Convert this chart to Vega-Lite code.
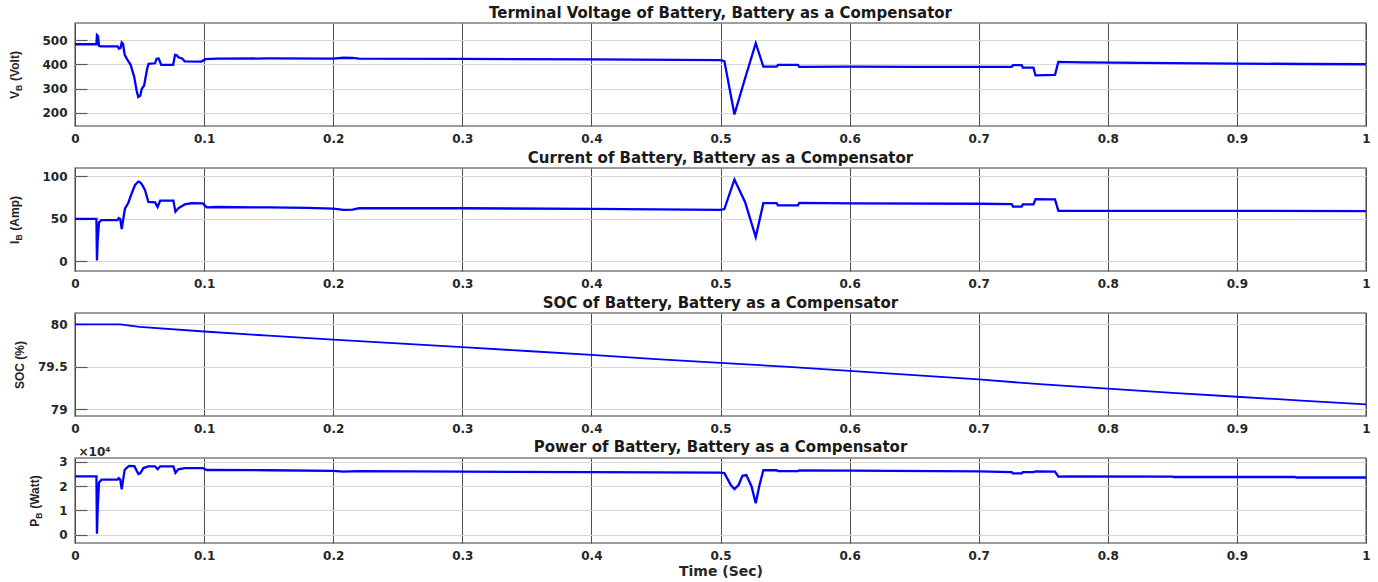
{
  "$schema": "https://vega.github.io/schema/vega-lite/v6.json",
  "padding": {"left": 7, "top": 5, "right": 6, "bottom": 4},
  "background": "white",
  "spacing": 42,
  "bounds": "flush",
  "config": {
    "font": "DejaVu Sans",
    "view": {"stroke": "#7f7f7f", "strokeWidth": 1.5},
    "title": {"font": "DejaVu Sans", "fontSize": 15, "fontWeight": "bold", "color": "#1a1a1a", "offset": 2, "anchor": "middle", "frame": "group"},
    "axis": {"labelFont": "DejaVu Sans", "labelFontSize": 12, "labelFontWeight": "bold", "labelColor": "#262626", "domain": false, "titleColor": "#262626"},
    "axisX": {"grid": true, "gridColor": "#4d4d4d", "gridWidth": 1, "ticks": false, "labelPadding": 7, "labelFlush": false, "titleFont": "DejaVu Sans", "titleFontSize": 14, "titleFontWeight": "bold", "titlePadding": 3},
    "axisY": {"grid": true, "gridColor": "#d6d6d6", "gridWidth": 1.2, "ticks": true, "tickSize": -12, "tickColor": "#595959", "tickWidth": 1.2, "labelPadding": 20, "titleFont": "Liberation Sans", "titleFontSize": 12, "titleFontWeight": "bold", "titleAlign": "center", "titleBaseline": "alphabetic"},
    "line": {"color": "#0000ff", "strokeWidth": 2.3}
  },
  "datasets": {
    "vb": [
      {"t": 0, "v": 484}, {"t": 0.0166, "v": 484}, {"t": 0.017, "v": 522}, {"t": 0.0178, "v": 518},
      {"t": 0.0186, "v": 477}, {"t": 0.02, "v": 475}, {"t": 0.033, "v": 475}, {"t": 0.034, "v": 466},
      {"t": 0.0352, "v": 468}, {"t": 0.0362, "v": 491}, {"t": 0.0372, "v": 485}, {"t": 0.0385, "v": 440},
      {"t": 0.0405, "v": 420}, {"t": 0.043, "v": 400}, {"t": 0.0458, "v": 350}, {"t": 0.0478, "v": 290},
      {"t": 0.049, "v": 265}, {"t": 0.0505, "v": 270}, {"t": 0.0518, "v": 300}, {"t": 0.0535, "v": 312},
      {"t": 0.056, "v": 385}, {"t": 0.057, "v": 403}, {"t": 0.062, "v": 405}, {"t": 0.0632, "v": 424},
      {"t": 0.0648, "v": 425}, {"t": 0.0668, "v": 398}, {"t": 0.076, "v": 398}, {"t": 0.0775, "v": 440},
      {"t": 0.079, "v": 438}, {"t": 0.08, "v": 430}, {"t": 0.083, "v": 425}, {"t": 0.085, "v": 413},
      {"t": 0.098, "v": 412}, {"t": 0.101, "v": 422}, {"t": 0.11, "v": 424}, {"t": 0.15, "v": 425},
      {"t": 0.2, "v": 424}, {"t": 0.208, "v": 428}, {"t": 0.215, "v": 427}, {"t": 0.22, "v": 424},
      {"t": 0.3, "v": 423}, {"t": 0.4, "v": 421}, {"t": 0.5, "v": 418}, {"t": 0.503, "v": 414},
      {"t": 0.5108, "v": 193}, {"t": 0.519, "v": 342}, {"t": 0.5273, "v": 488}, {"t": 0.5332, "v": 391},
      {"t": 0.5435, "v": 391}, {"t": 0.5445, "v": 398}, {"t": 0.56, "v": 398}, {"t": 0.561, "v": 390},
      {"t": 0.6, "v": 391}, {"t": 0.65, "v": 390}, {"t": 0.7, "v": 390}, {"t": 0.7256, "v": 390},
      {"t": 0.7265, "v": 397}, {"t": 0.7333, "v": 397}, {"t": 0.7342, "v": 387}, {"t": 0.7424, "v": 387},
      {"t": 0.744, "v": 355}, {"t": 0.7591, "v": 357}, {"t": 0.7617, "v": 411}, {"t": 0.78, "v": 409},
      {"t": 0.85, "v": 406}, {"t": 0.9, "v": 404}, {"t": 0.95, "v": 402}, {"t": 1, "v": 401}
    ],
    "ib": [
      {"t": 0, "i": 50}, {"t": 0.0166, "i": 50}, {"t": 0.017, "i": 1}, {"t": 0.0176, "i": 25},
      {"t": 0.0186, "i": 46}, {"t": 0.0205, "i": 48.5}, {"t": 0.033, "i": 48.5}, {"t": 0.0338, "i": 51},
      {"t": 0.035, "i": 50}, {"t": 0.0362, "i": 38}, {"t": 0.0372, "i": 48}, {"t": 0.0387, "i": 62},
      {"t": 0.0413, "i": 69}, {"t": 0.0439, "i": 80}, {"t": 0.0465, "i": 90}, {"t": 0.0491, "i": 94},
      {"t": 0.0505, "i": 93}, {"t": 0.0517, "i": 91}, {"t": 0.0542, "i": 84}, {"t": 0.0568, "i": 70},
      {"t": 0.062, "i": 69.5}, {"t": 0.064, "i": 64}, {"t": 0.066, "i": 71.5}, {"t": 0.0762, "i": 71.5},
      {"t": 0.0778, "i": 58.5}, {"t": 0.08, "i": 62.5}, {"t": 0.085, "i": 67}, {"t": 0.09, "i": 68.4},
      {"t": 0.099, "i": 68.2}, {"t": 0.102, "i": 63.6}, {"t": 0.11, "i": 64}, {"t": 0.15, "i": 63.5},
      {"t": 0.18, "i": 63}, {"t": 0.2, "i": 62}, {"t": 0.208, "i": 60.5}, {"t": 0.215, "i": 61},
      {"t": 0.22, "i": 62.5}, {"t": 0.3, "i": 62.5}, {"t": 0.4, "i": 61.8}, {"t": 0.5, "i": 60.5},
      {"t": 0.503, "i": 61.5}, {"t": 0.5108, "i": 96.5}, {"t": 0.519, "i": 70}, {"t": 0.5273, "i": 28.5},
      {"t": 0.5332, "i": 68.5}, {"t": 0.5435, "i": 68.5}, {"t": 0.5445, "i": 66}, {"t": 0.56, "i": 66},
      {"t": 0.561, "i": 68.8}, {"t": 0.6, "i": 68.3}, {"t": 0.7, "i": 67.8}, {"t": 0.7256, "i": 67.5},
      {"t": 0.7265, "i": 64.5}, {"t": 0.7333, "i": 64.5}, {"t": 0.7342, "i": 67}, {"t": 0.7424, "i": 67},
      {"t": 0.744, "i": 73.2}, {"t": 0.7591, "i": 73}, {"t": 0.7617, "i": 59.5}, {"t": 0.8, "i": 59.5},
      {"t": 0.9, "i": 59.4}, {"t": 1, "i": 59.1}
    ],
    "soc": [
      {"t": 0, "s": 80.0}, {"t": 0.035, "s": 79.998}, {"t": 0.05, "s": 79.97}, {"t": 0.1, "s": 79.915},
      {"t": 0.15, "s": 79.865}, {"t": 0.2, "s": 79.82}, {"t": 0.25, "s": 79.775}, {"t": 0.3, "s": 79.73},
      {"t": 0.35, "s": 79.685}, {"t": 0.4, "s": 79.64}, {"t": 0.45, "s": 79.59}, {"t": 0.5, "s": 79.545},
      {"t": 0.55, "s": 79.5}, {"t": 0.6, "s": 79.45}, {"t": 0.65, "s": 79.4}, {"t": 0.7, "s": 79.35},
      {"t": 0.75, "s": 79.29}, {"t": 0.8, "s": 79.24}, {"t": 0.85, "s": 79.19}, {"t": 0.9, "s": 79.145},
      {"t": 0.95, "s": 79.1}, {"t": 1, "s": 79.055}
    ],
    "pb": [
      {"t": 0, "p": 24100}, {"t": 0.0166, "p": 24100}, {"t": 0.017, "p": 400}, {"t": 0.0176, "p": 11000},
      {"t": 0.0186, "p": 21500}, {"t": 0.0205, "p": 22700}, {"t": 0.033, "p": 22700}, {"t": 0.0338, "p": 23300},
      {"t": 0.035, "p": 22800}, {"t": 0.0362, "p": 18700}, {"t": 0.0372, "p": 22500}, {"t": 0.0385, "p": 26800},
      {"t": 0.04, "p": 27600}, {"t": 0.042, "p": 28400}, {"t": 0.046, "p": 28300}, {"t": 0.0491, "p": 25000},
      {"t": 0.0505, "p": 25300}, {"t": 0.053, "p": 27500}, {"t": 0.0568, "p": 28200}, {"t": 0.062, "p": 28200},
      {"t": 0.064, "p": 27000}, {"t": 0.066, "p": 28200}, {"t": 0.0762, "p": 28200}, {"t": 0.0778, "p": 25500},
      {"t": 0.08, "p": 27000}, {"t": 0.085, "p": 27500}, {"t": 0.099, "p": 27500}, {"t": 0.102, "p": 26700},
      {"t": 0.15, "p": 26600}, {"t": 0.2, "p": 26300}, {"t": 0.208, "p": 26000}, {"t": 0.22, "p": 26200},
      {"t": 0.3, "p": 26000}, {"t": 0.4, "p": 25800}, {"t": 0.5, "p": 25600}, {"t": 0.503, "p": 25400},
      {"t": 0.508, "p": 20500}, {"t": 0.5108, "p": 18800}, {"t": 0.514, "p": 20500}, {"t": 0.517, "p": 24300},
      {"t": 0.52, "p": 24600}, {"t": 0.524, "p": 20000}, {"t": 0.5273, "p": 13000}, {"t": 0.53, "p": 20000},
      {"t": 0.5332, "p": 26600}, {"t": 0.5435, "p": 26600}, {"t": 0.5445, "p": 26200}, {"t": 0.56, "p": 26200},
      {"t": 0.561, "p": 26500}, {"t": 0.6, "p": 26400}, {"t": 0.7, "p": 26100}, {"t": 0.7256, "p": 25800},
      {"t": 0.7265, "p": 25300}, {"t": 0.7333, "p": 25300}, {"t": 0.7342, "p": 25800}, {"t": 0.7424, "p": 25800},
      {"t": 0.744, "p": 26100}, {"t": 0.7591, "p": 26000}, {"t": 0.7617, "p": 24000}, {"t": 0.77, "p": 24100},
      {"t": 0.85, "p": 24000}, {"t": 0.851, "p": 23800}, {"t": 0.945, "p": 23800}, {"t": 0.946, "p": 23600},
      {"t": 1, "p": 23600}
    ]
  },
  "vconcat": [
    {
      "title": "Terminal Voltage of Battery, Battery as a Compensator",
      "width": 1291, "height": 103,
      "data": {"name": "vb"},
      "encoding": {
        "x": {"field": "t", "type": "quantitative", "scale": {"domain": [0, 1], "nice": false, "zero": false},
              "axis": {"title": null, "labelExpr": "'' + datum.value", "values": [0, 0.1, 0.2, 0.3, 0.4, 0.5, 0.6, 0.7, 0.8, 0.9, 1]}}
      },
      "layer": [
        {"mark": {"type": "line"},
         "encoding": {"y": {"field": "v", "type": "quantitative", "scale": {"domain": [145, 572], "nice": false, "zero": false},
           "axis": {"orient": "left", "title": "V\u00a0\u00a0\u00a0(Volt)", "titleX": -57, "titleY": 51.5, "values": [200, 300, 400, 500]}}}},
        {"mark": {"type": "line", "opacity": 0},
         "encoding": {"y": {"field": "v", "type": "quantitative",
           "axis": {"orient": "left", "title": "B", "titleFontSize": 8.5, "titleAlign": "left", "titleX": -54, "titleY": 67.5, "labels": false, "ticks": false, "grid": false}}}}
      ],
      "resolve": {"axis": {"y": "independent"}}
    },
    {
      "title": "Current of Battery, Battery as a Compensator",
      "width": 1291, "height": 103,
      "data": {"name": "ib"},
      "encoding": {
        "x": {"field": "t", "type": "quantitative", "scale": {"domain": [0, 1], "nice": false, "zero": false},
              "axis": {"title": null, "labelExpr": "'' + datum.value", "values": [0, 0.1, 0.2, 0.3, 0.4, 0.5, 0.6, 0.7, 0.8, 0.9, 1]}}
      },
      "layer": [
        {"mark": {"type": "line"},
         "encoding": {"y": {"field": "i", "type": "quantitative", "scale": {"domain": [-11.5, 110], "nice": false, "zero": false},
           "axis": {"orient": "left", "title": "I\u00a0\u00a0\u00a0(Amp)", "titleX": -57, "titleY": 51.5, "values": [0, 50, 100]}}}},
        {"mark": {"type": "line", "opacity": 0},
         "encoding": {"y": {"field": "i", "type": "quantitative",
           "axis": {"orient": "left", "title": "B", "titleFontSize": 8.5, "titleAlign": "left", "titleX": -54, "titleY": 71.9, "labels": false, "ticks": false, "grid": false}}}}
      ],
      "resolve": {"axis": {"y": "independent"}}
    },
    {
      "title": "SOC of Battery, Battery as a Compensator",
      "width": 1291, "height": 103,
      "data": {"name": "soc"},
      "mark": {"type": "line", "strokeWidth": 1.8},
      "encoding": {
        "x": {"field": "t", "type": "quantitative", "scale": {"domain": [0, 1], "nice": false, "zero": false},
              "axis": {"title": null, "labelExpr": "'' + datum.value", "values": [0, 0.1, 0.2, 0.3, 0.4, 0.5, 0.6, 0.7, 0.8, 0.9, 1]}},
        "y": {"field": "s", "type": "quantitative", "scale": {"domain": [78.918, 80.133], "nice": false, "zero": false},
              "axis": {"title": "SOC (%)", "titleX": -52, "titleY": 51.5, "labelExpr": "'' + datum.value", "values": [79, 79.5, 80]}}
      }
    },
    {
      "title": {"text": "Power of Battery, Battery as a Compensator", "offset": -10},
      "width": 1291, "height": 85,
      "data": {"name": "pb"},
      "encoding": {
        "x": {"field": "t", "type": "quantitative", "scale": {"domain": [0, 1], "nice": false, "zero": false},
              "axis": {"title": "Time (Sec)", "labelExpr": "'' + datum.value", "values": [0, 0.1, 0.2, 0.3, 0.4, 0.5, 0.6, 0.7, 0.8, 0.9, 1]}}
      },
      "layer": [
        {"mark": {"type": "line"},
         "encoding": {"y": {"field": "p", "type": "quantitative", "scale": {"domain": [-3430, 31650], "nice": false, "zero": false},
           "axis": {"orient": "left", "title": "P\u00a0\u00a0\u00a0(Watt)", "titleX": -37, "titleY": 42.5, "values": [0, 10000, 20000, 30000],
                    "labelExpr": "'' + (datum.value / 10000)"}}}},
        {"mark": {"type": "line", "opacity": 0},
         "encoding": {"y": {"field": "p", "type": "quantitative",
           "axis": {"orient": "left", "title": "B", "titleFontSize": 8.5, "titleAlign": "left", "titleX": -34, "titleY": 60.2, "labels": false, "ticks": false, "grid": false}}}},
        {"mark": {"type": "line", "opacity": 0},
         "encoding": {"y": {"field": "p", "type": "quantitative",
           "axis": {"orient": "left", "title": "\u00d710\u2074", "titleFont": "DejaVu Sans", "titleFontSize": 12, "titleAngle": 0.01, "titleAlign": "left", "titleBaseline": "alphabetic", "titleX": 3, "titleY": -3, "labels": false, "ticks": false, "grid": false}}}}
      ],
      "resolve": {"axis": {"y": "independent"}}
    }
  ]
}
